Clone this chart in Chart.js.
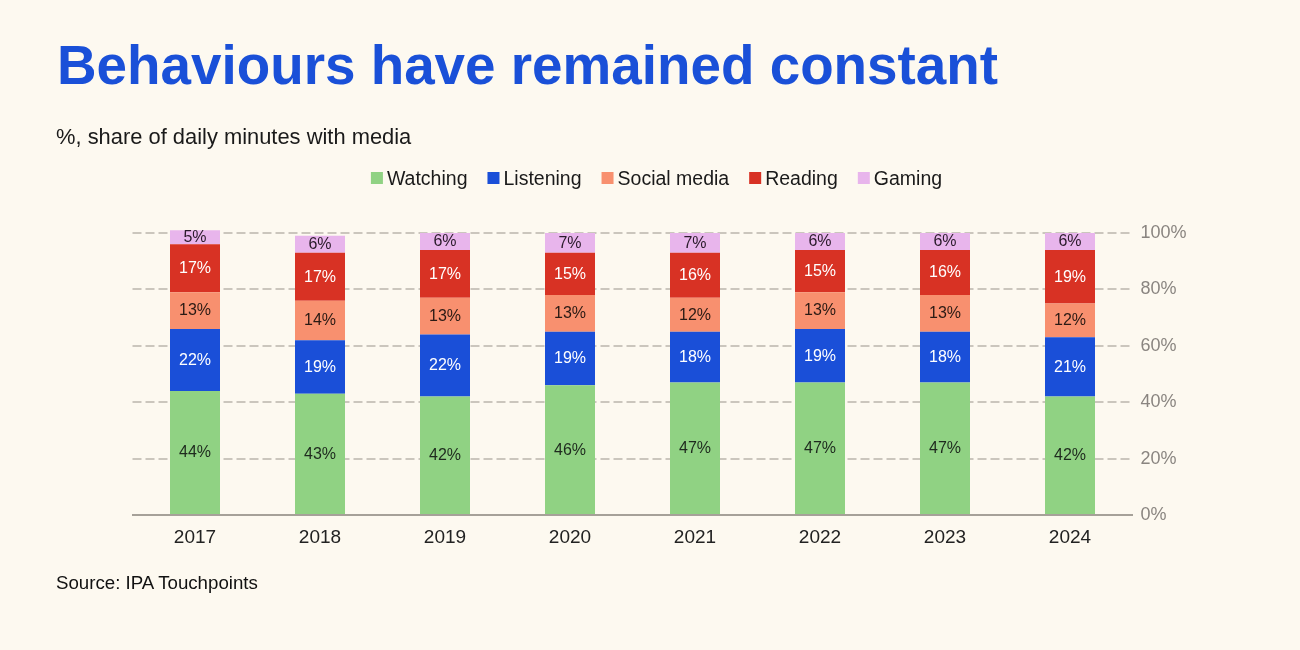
<!DOCTYPE html>
<html>
<head>
<meta charset="utf-8">
<script src="https://cdn.jsdelivr.net/npm/chart.js@4.4.0/dist/chart.umd.min.js"></script>
<style>
html,body{margin:0;padding:0;background:#fdf9f0;}
#wrap{position:relative;width:1300px;height:650px;overflow:hidden;font-family:"Liberation Sans",Arial,sans-serif;background:#fdf9f0;}
canvas{position:absolute;left:0;top:0;}
.t{position:absolute;white-space:nowrap;line-height:1;}
#title{left:57px;top:38px;font-size:54.8px;font-weight:bold;color:#1a50d8;}
#sub{left:56px;top:125.5px;font-size:21.9px;color:#1a1a1a;}
#src{left:56px;top:573.5px;font-size:18.7px;color:#111;}
</style>
</head>
<body>
<div id="wrap">
<canvas id="c" width="1300" height="650"></canvas>
<div class="t" id="title">Behaviours have remained constant</div>
<div class="t" id="sub">%, share of daily minutes with media</div>
<div class="t" id="src">Source: IPA Touchpoints</div>
</div>
<script>
const years = ['2017','2018','2019','2020','2021','2022','2023','2024'];
const seriesNames = ['Watching','Listening','Social media','Reading','Gaming'];
const watching  = [44,43,42,46,47,47,47,42];
const listening = [22,19,22,19,18,19,18,21];
const social    = [13,14,13,13,12,13,13,12];
const reading   = [17,17,17,15,16,15,16,19];
const gaming    = [5,6,6,7,7,6,6,6];
const yTickValues = [0,20,40,60,80,100];

const FONT = '"Liberation Sans", Arial, sans-serif';
const colors = ['#90d283','#1a4fd8','#f8906f','#d83224','#e8b5ec'];
const labelColors = ['#1e2a1e','#ffffff','#2a1a14','#ffffff','#2a1a2a'];
const values = [watching, listening, social, reading, gaming];

const datasets = values.map((v,i)=>({
  label: seriesNames[i],
  data: v,
  backgroundColor: colors[i],
  borderWidth: 0,
  barPercentage: 0.4,
  categoryPercentage: 1.0,
  stack: 's',
  clip: false
}));

const labelPlugin = {
  id: 'segLabels',
  afterDatasetsDraw(chart){
    const ctx = chart.ctx;
    ctx.save();
    ctx.font = '16px ' + FONT;
    ctx.textAlign = 'center';
    ctx.textBaseline = 'middle';
    chart.data.datasets.forEach((ds, di)=>{
      const meta = chart.getDatasetMeta(di);
      ctx.fillStyle = labelColors[di];
      meta.data.forEach((bar, i)=>{
        const p = bar.getProps(['x','y','base'], true);
        ctx.fillText(ds.data[i] + '%', p.x, (p.y + p.base)/2 + 0.5);
      });
    });
    ctx.restore();
  }
};

const legendPlugin = {
  id: 'customLegend',
  afterDraw(chart){
    const ctx = chart.ctx;
    ctx.save();
    ctx.font = '19.5px ' + FONT;
    const box = 12, gap = 4, spacing = 20;
    const widths = chart.data.datasets.map(d => ctx.measureText(d.label).width);
    let total = widths.reduce((a,w)=>a + box + gap + w, 0) + spacing*(widths.length-1);
    let x = 656.5 - total/2;
    ctx.textBaseline = 'alphabetic';
    ctx.textAlign = 'left';
    chart.data.datasets.forEach((d,i)=>{
      ctx.fillStyle = d.backgroundColor;
      ctx.fillRect(x, 172, box, box);
      ctx.fillStyle = '#1a1a1a';
      ctx.fillText(d.label, x + box + gap, 185);
      x += box + gap + widths[i] + spacing;
    });
    ctx.restore();
  }
};

new Chart(document.getElementById('c'), {
  type: 'bar',
  data: { labels: years, datasets },
  options: {
    responsive: false,
    animation: false,
    devicePixelRatio: 1,
    layout: { padding: { left: 132.5, top: 233, right: 0, bottom: 0 } },
    plugins: { legend: { display: false }, tooltip: { enabled: false } },
    scales: {
      x: {
        stacked: true,
        grid: { display: false, drawTicks: false },
        border: { display: true, color: '#a6a199', width: 2 },
        ticks: { font: { size: 19, family: FONT }, color: '#222222', padding: 11 },
        afterFit(s){ s.height = 135; }
      },
      y: {
        stacked: true,
        position: 'right',
        min: 0, max: 100,
        afterBuildTicks(s){ s.ticks = yTickValues.map(v=>({value:v})); },
        ticks: { font: { size: 18, family: FONT }, color: '#8a8580', padding: 8, callback: v => v + '%' },
        grid: { color: c => (c.tick && c.tick.value === 0) ? 'rgba(0,0,0,0)' : '#cbc6bd', lineWidth: 2, drawTicks: false },
        border: { display: false, dash: [9,4] },
        afterFit(s){ s.width = 167.5; }
      }
    }
  },
  plugins: [labelPlugin, legendPlugin]
});
</script>
</body>
</html>
